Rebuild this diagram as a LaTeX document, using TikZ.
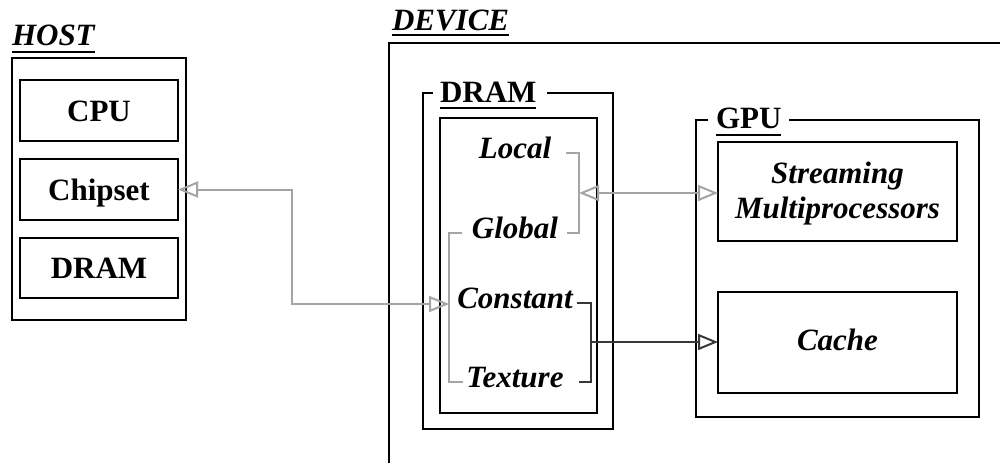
\documentclass[tikz,border=0pt]{standalone}
\usepackage{fontspec}
\setmainfont{Liberation Serif}
\usetikzlibrary{arrows.meta,fit}
\definecolor{lgray}{HTML}{A4A4A4}
\definecolor{dgray}{HTML}{383838}
\begin{document}
\begin{tikzpicture}[x=0.5pt,y=-0.5pt,
  boxln/.style={draw=black, line width=1.25pt},
  frame/.style={inner sep=0pt, outer sep=0pt},
  lbl/.style={font=\fontsize{15.5pt}{17.5pt}\selectfont\bfseries, inner sep=0pt, outer sep=0pt, anchor=base},
  ilbl/.style={lbl, font=\fontsize{15.5pt}{17.5pt}\selectfont\bfseries\itshape},
  uline/.style={line width=1.1pt},
  gline/.style={draw=lgray, line width=1pt},
  dline/.style={draw=dgray, line width=1pt},
  otip/.style={arrows={-{Triangle[open,length=10pt,width=8pt]}}},
  otips/.style={arrows={{Triangle[open,length=10pt,width=8pt]}-{Triangle[open,length=10pt,width=8pt]}}}
]
\useasboundingbox (0,0) rectangle (1000,463);

% ---------- HOST ----------
\node[ilbl, anchor=base west] (hostt) at (12,45) {HOST};
\draw[uline] ([yshift=-3.5pt]hostt.base west) -- ([yshift=-3.5pt]hostt.base east);
\node[frame, boxln, fit={(12,58) (186,320)}] (host) {};
\node[frame, boxln, fit={(20,80) (178,141)}] (cpu) {};
\node[frame, boxln, fit={(20,159) (178,220)}] (chipset) {};
\node[frame, boxln, fit={(20,238) (178,298)}] (hdram) {};
\node[lbl] (cpul) at (99,121) {CPU};
\node[lbl] (chipsetl) at (99,200) {Chipset};
\node[lbl] (hdraml) at (99,278) {DRAM};

% ---------- DEVICE ----------
\node[ilbl, anchor=base west] (devt) at (392,30) {DEVICE};
\draw[uline] ([yshift=-2.5pt]devt.base west) -- ([yshift=-2.5pt]devt.base east);
\coordinate (devbl) at (389,463);
\coordinate (devtl) at (389,43);
\coordinate (devtr) at (1000,43);
\draw[boxln] (devbl) -- (devtl) -- (devtr);

% ---------- device DRAM ----------
\node[frame, fit={(423,93) (613,429)}] (dramout) {};
\node[lbl, anchor=base west] (dramt) at (440,102) {DRAM};
\draw[uline] ([yshift=-3pt]dramt.base west) -- ([yshift=-3pt]dramt.base east);
\draw[boxln] ([xshift=-3.5pt]dramt.west |- dramout.north) -- (dramout.north west) -- (dramout.south west)
  -- (dramout.south east) -- (dramout.north east) -- ([xshift=5.5pt]dramt.east |- dramout.north);
\node[frame, boxln, fit={(440,118) (597,413)}] (dramin) {};
\node[ilbl] (local) at (515,158) {Local};
\node[ilbl] (global) at (515,238) {Global};
\node[ilbl] (constant) at (515,308) {Constant};
\node[ilbl] (texture) at (515,387) {Texture};

% ---------- GPU ----------
\node[frame, fit={(696,120) (979,417)}] (gpuout) {};
\node[lbl, anchor=base west] (gput) at (716,128) {GPU};
\draw[uline] ([yshift=-3.5pt]gput.base west) -- ([yshift=-3.5pt]gput.base east);
\draw[boxln] ([xshift=-4pt]gput.west |- gpuout.north) -- (gpuout.north west) -- (gpuout.south west)
  -- (gpuout.south east) -- (gpuout.north east) -- ([xshift=4pt]gput.east |- gpuout.north);
\node[frame, boxln, fit={(718,142) (957,241)}] (sm) {};
\node[frame, boxln, fit={(718,292) (957,393)}] (cache) {};
\node[ilbl, align=center, anchor=north] (smt) at (837.5,162) {Streaming\\Multiprocessors};
\node[ilbl] (cachet) at (837.5,350) {Cache};

% ---------- brackets and connectors ----------
\coordinate (lgbar) at (579,193);
\coordinate (gtbar) at (449,304);
\coordinate (ctbar) at (591,342);
\coordinate (bend) at (292,304);

\draw[gline] ([xshift=7.5pt]local.mid east) -| (lgbar) |- ([xshift=4.5pt]global.mid east);
\draw[gline] ([xshift=-5pt]global.mid west) -| (gtbar) |- ([xshift=-1.5pt]texture.mid west);
\draw[dline] ([xshift=2pt]constant.mid east) -| (ctbar) |- ([xshift=7.5pt]texture.mid east);

\draw[gline, otips] (chipset.east) -| (bend) -- (gtbar);
\draw[gline, otips] (lgbar) -- (sm.west |- lgbar);
\draw[dline, otip] (ctbar) -- (cache.west |- ctbar);
\end{tikzpicture}
\end{document}
